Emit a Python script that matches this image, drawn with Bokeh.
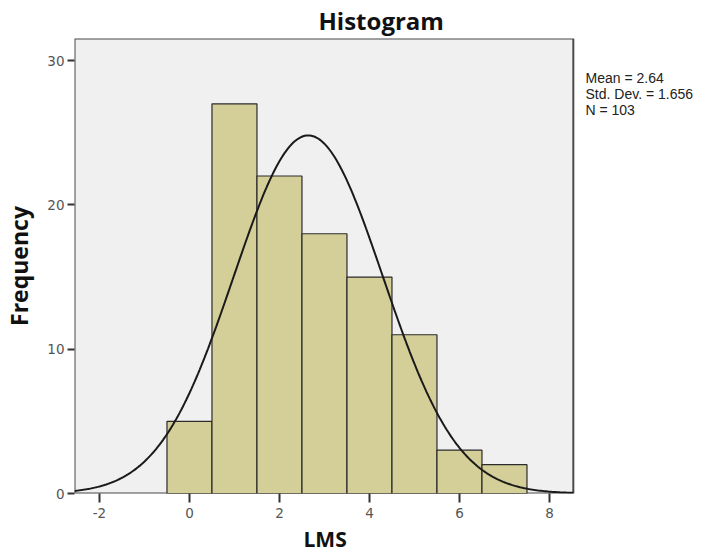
import numpy as np
from bokeh.plotting import figure
from bokeh.models import Range1d, FixedTicker, Label, Title
from bokeh.embed import file_html
from bokeh.resources import INLINE

# Data
bin_centers = [0, 1, 2, 3, 4, 5, 6, 7]
frequencies = [5, 27, 22, 18, 15, 11, 3, 2]
bin_width = 1.0
mean_val = 2.64
std_dev = 1.656
n_total = 103
x_ticks = [-2, 0, 2, 4, 6, 8]
x_tick_labels = {-2: "-2", 0: "0", 2: "2", 4: "4", 6: "6", 8: "8"}
y_ticks = [0, 10, 20, 30]

# Plot-area extent (the grey box) and the extra room at its right for the stats text
X_MIN, X_MAX = -2.555, 8.53
Y_MIN, Y_MAX = 0, 31.53
X_CANVAS_RIGHT = 11.756

p = figure(width=718, height=557, output_backend="svg", toolbar_location=None,
           x_range=Range1d(X_MIN, X_CANVAS_RIGHT), y_range=Range1d(Y_MIN, Y_MAX),
           min_border_left=74, min_border_right=0, min_border_top=38,
           min_border_bottom=64)

p.background_fill_color = "white"
p.border_fill_color = "white"
p.outline_line_color = None
p.grid.visible = False

# grey plot area with dark frame
p.quad(left=[X_MIN], right=[X_MAX], bottom=[Y_MIN], top=[Y_MAX],
       fill_color="#F0F0F0", line_color="#4a4a4a", line_width=2)

p.vbar(x=bin_centers, top=frequencies, width=bin_width, bottom=0,
       fill_color="#D4CF98", line_color="#2b2b2b", line_width=1.2)

# Normal curve from the reported statistics
xs = np.linspace(X_MIN, X_MAX, 300)
ys = n_total * bin_width / (std_dev * np.sqrt(2 * np.pi)) * np.exp(-0.5 * ((xs - mean_val) / std_dev) ** 2)
p.line(xs, ys, line_color="#1a1a1a", line_width=2)

for ax in (p.xaxis, p.yaxis):
    ax.axis_line_color = None
    ax.major_tick_line_color = "#333333"
    ax.major_tick_line_width = 2
    ax.minor_tick_line_color = None
    ax.major_tick_in = 0
    ax.major_label_text_font = "DejaVu Sans"
    ax.major_label_text_font_size = "13.5px"
    ax.major_label_text_color = "#555555"
    ax.axis_label_text_font = "Open Sans"
    ax.axis_label_text_font_style = "bold"
    ax.axis_label_text_color = "#111111"

p.xaxis.ticker = FixedTicker(ticks=x_ticks)
p.xaxis.major_label_overrides = x_tick_labels
p.yaxis.ticker = FixedTicker(ticks=y_ticks)
p.xaxis.major_tick_out = 9
p.yaxis.major_tick_out = 7
p.xaxis.major_label_standoff = 5
p.yaxis.major_label_standoff = 3
p.xaxis.axis_label = None
p.yaxis.axis_label = "Frequency"
p.yaxis.axis_label_text_font_size = "23px"
p.yaxis.axis_label_standoff = 9

# x-axis title under the grey box
p.add_layout(Title(text="LMS", align="left", offset=229, standoff=4,
                   text_font="Open Sans", text_font_style="bold", text_font_size="21px",
                   text_color="#111111"), "below")

p.title.text = "Histogram"
p.title.align = "left"
p.title.offset = 244
p.title.standoff = 3
p.title.text_font = "Open Sans"
p.title.text_font_style = "bold"
p.title.text_font_size = "24px"
p.title.text_color = "#111111"

stats = ["Mean = %.2f" % mean_val, "Std. Dev. = %.3f" % std_dev, "N = %d" % n_total]
for i, s in enumerate(stats):
    p.add_layout(Label(x=8.80, y=28.77 - i * 1.10, text=s, text_font="Liberation Sans",
                       text_font_size="14px", text_color="#222222",
                       text_baseline="alphabetic", text_align="left"))

open("out.html", "w").write(file_html(p, INLINE))
